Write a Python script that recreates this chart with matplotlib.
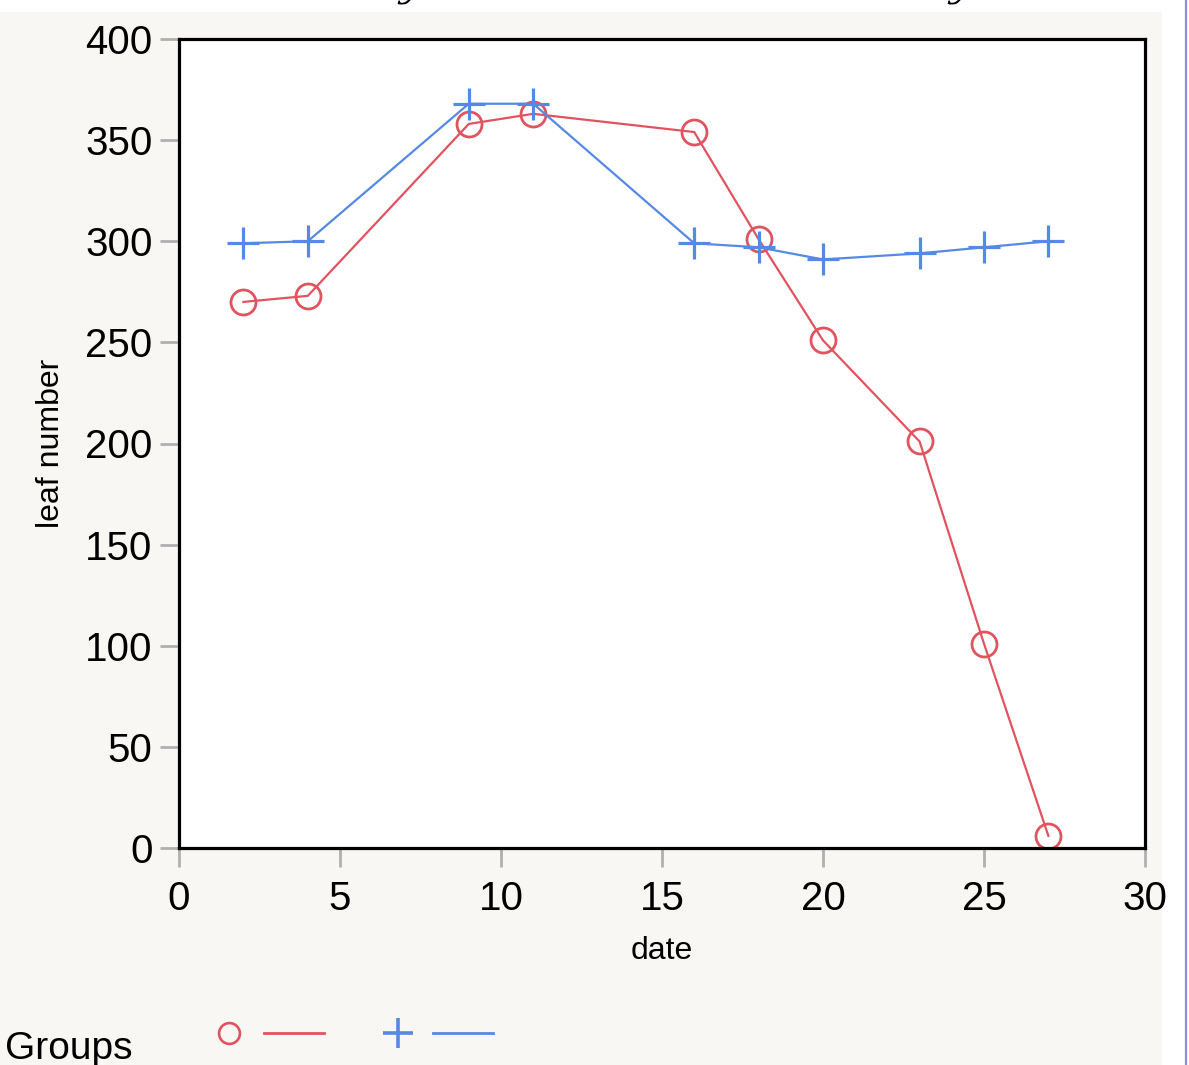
import matplotlib.pyplot as plt
from matplotlib.patches import Rectangle
from matplotlib.lines import Line2D

plt.rcParams['font.family'] = ['Liberation Sans', 'DejaVu Sans']

dates = [2, 4, 9, 11, 16, 18, 20, 23, 25, 27]
group_red = [270, 273, 358, 363, 354, 301, 251, 201, 101, 6]
group_blue = [299, 300, 368, 368, 299, 297, 291, 294, 297, 300]
xticks = [0, 5, 10, 15, 20, 25, 30]
yticks = [0, 50, 100, 150, 200, 250, 300, 350, 400]

red = '#e0535f'
blue = '#5589e4'
W, H = 1189, 1065

fig = plt.figure(figsize=(W / 100, H / 100), dpi=100, facecolor='white')

# beige panel behind the plot, white strip on top and right
fig.patches.append(Rectangle((0, 0), 1162 / W, 1053 / H, transform=fig.transFigure,
                             facecolor='#f8f7f3', edgecolor='none', zorder=-10))
fig.add_artist(Line2D([1186 / W, 1186 / W], [0, 1], transform=fig.transFigure,
                      color='#8c8ce0', linewidth=1.6))

# tails of the cut-off title
for xp in [409, 959]:
    fig.text(xp / W, 1.0 + 4 / H, 'y', family='DejaVu Serif', style='italic',
             fontsize=26, ha='center', va='baseline')

ax = fig.add_axes([179 / W, 217 / H, 966 / W, 809 / H])
ax.set_facecolor('white')

ax.plot(dates, group_red, color=red, linewidth=1.6, marker='o', markersize=18,
        markerfacecolor='none', markeredgecolor=red, markeredgewidth=2.0)
ax.plot(dates, group_blue, color=blue, linewidth=1.6, marker='+', markersize=23,
        markeredgewidth=2.3)

ax.set_xlim(0, 30)
ax.set_ylim(0, 400)
ax.set_xticks(xticks)
ax.set_yticks(yticks)
ax.tick_params(direction='out', length=14, width=2, color='#b0b0b0',
               labelsize=29, pad=5)
ax.tick_params(axis='x', pad=9)
for s in ax.spines.values():
    s.set_linewidth(2.3)
    s.set_color('black')

ax.set_xlabel('date', fontsize=23, labelpad=13)
ax.set_ylabel('leaf number', fontsize=23, labelpad=14)

# legend strip at the bottom
fig.text(5 / W, 6 / H, 'Groups', fontsize=28, ha='left', va='baseline')
ly = 1 - 1033 / H
fig.add_artist(Line2D([229 / W], [ly], transform=fig.transFigure, marker='o',
                      markersize=15, markerfacecolor='none', markeredgecolor=red,
                      markeredgewidth=1.9, linestyle='none'))
fig.add_artist(Line2D([264 / W, 324 / W], [ly, ly], transform=fig.transFigure,
                      color=red, linewidth=2))
fig.add_artist(Line2D([398 / W], [ly], transform=fig.transFigure, marker='+',
                      markersize=22, markeredgecolor=blue, markeredgewidth=2.6,
                      linestyle='none'))
fig.add_artist(Line2D([433 / W, 493 / W], [ly, ly], transform=fig.transFigure,
                      color=blue, linewidth=2))

fig.savefig('out.png', dpi=100, facecolor=fig.get_facecolor())
